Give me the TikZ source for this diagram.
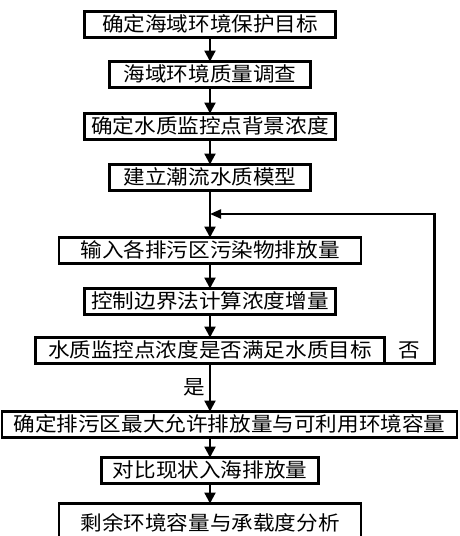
\documentclass[tikz,border=0pt]{standalone}
\usepackage{fontspec}
\usepackage{tikz}
\usetikzlibrary{arrows.meta,positioning,calc}
\newfontfamily\cjk[FakeStretch=1.08]{Noto Sans CJK SC}

\begin{document}
\begin{tikzpicture}[
  box/.style={draw,line width=2.2pt,outer sep=0pt,minimum height=26pt,inner xsep=3pt,inner ysep=3pt,
    text height=17pt,text depth=3pt,align=center,font=\fontsize{20pt}{22pt}\cjk},
  arr/.style={line width=2.2pt,-{Triangle[length=11pt,width=11pt]}},
  lbl/.style={font=\fontsize{20pt}{22pt}\cjk}
]
\useasboundingbox (0,0) rectangle (460pt,-536pt);
\node[box,minimum width=251pt] (goal) at (210pt,-24.5pt) {确定海域环境保护目标};
\node[box,minimum width=201pt,below=24pt of goal] (survey) {海域环境质量调查};
\node[box,minimum width=251pt,below=26pt of survey] (background) {确定水质监控点背景浓度};
\node[box,minimum width=201pt,below=25pt of background] (model) {建立潮流水质模型};
\node[box,minimum width=302pt,below=47pt of model] (input) {输入各排污区污染物排放量};
\node[box,minimum width=251pt,below=25pt of input] (calc) {控制边界法计算浓度增量};
\node[box,minimum width=349pt,below=23pt of calc] (decide) {水质监控点浓度是否满足水质目标};
\node[box,minimum width=455pt,below=48pt of decide,xshift=19.5pt] (confirm) {确定排污区最大允许排放量与可利用环境容量};
\node[box,minimum width=217pt,below=20pt of confirm,xshift=-19.5pt] (compare) {对比现状入海排放量};
\node[box,minimum width=302pt,minimum height=40pt,below=20pt of compare] (remain) {剩余环境容量与承载度分析};

\coordinate (join) at ($(model.south)!0.5!(input.north)$);
\coordinate (turn) at ($(decide.south east)+(50pt,0)$);

\draw[arr] (goal) -- (survey);
\draw[arr] (survey) -- (background);
\draw[arr] (background) -- (model);
\draw[arr] (model) -- (input);
\draw[arr] (input) -- (calc);
\draw[arr] (calc) -- (decide);
\draw[arr] (decide) -- node[lbl,left] {是} (decide.south |- confirm.north);
\draw[arr] (confirm.south -| compare) -- (compare);
\draw[arr] (compare) -- (remain);
\draw[arr,-{Triangle[length=11pt,width=9pt]}] (decide.south east) -- (turn) |- (join);
\node[lbl] (no) at ($(decide.east)+(25pt,0)$) {否};
\end{tikzpicture}
\end{document}
